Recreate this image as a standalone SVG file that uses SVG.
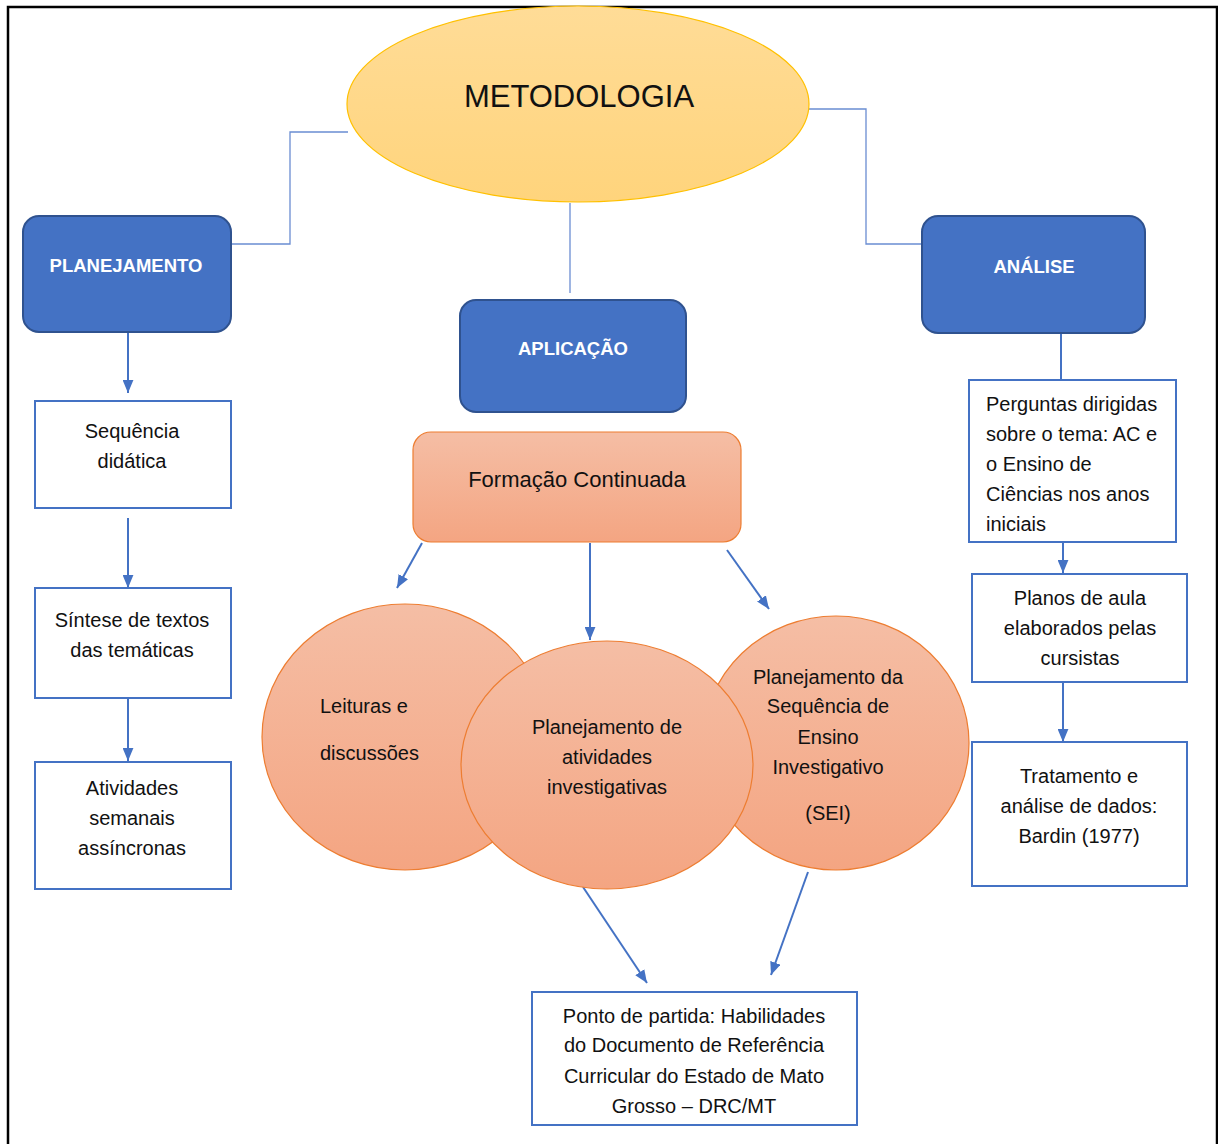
<svg xmlns="http://www.w3.org/2000/svg" width="1218" height="1144" viewBox="0 0 1218 1144">
<defs>
<linearGradient id="gOr" x1="0" y1="0" x2="0" y2="1"><stop offset="0" stop-color="#F5BEA5"/><stop offset="1" stop-color="#F4A582"/></linearGradient>
<linearGradient id="gYe" x1="0" y1="0" x2="0" y2="1"><stop offset="0" stop-color="#FFDC97"/><stop offset="1" stop-color="#FFD47C"/></linearGradient>
<marker id="ah" viewBox="0 0 12 10" refX="12" refY="5" markerWidth="13" markerHeight="11" markerUnits="userSpaceOnUse" orient="auto"><path d="M0,0 L12,5 L0,10 Z" fill="#4472C4"/></marker>
<style>
text{font-family:"Liberation Sans",Arial,sans-serif;fill:#111;font-size:20px}
.c{text-anchor:middle}
.w{fill:#fff;font-weight:bold;font-size:18.5px;text-anchor:middle}
.blue{fill:#4472C4;stroke:#2F528F;stroke-width:2}
.box{fill:#fff;stroke:#4472C4;stroke-width:2}
.or{fill:url(#gOr);stroke:#ED7D31;stroke-width:1.2}
.ln{fill:none;stroke:#6A8DD2;stroke-width:1.3}
.ar{fill:none;stroke:#4472C4;stroke-width:2;marker-end:url(#ah)}
</style>
</defs>
<rect x="8" y="7" width="1209" height="1145" fill="#fff" stroke="#000" stroke-width="2.5"/>
<g id="connectors">
<path class="ln" d="M348,132 H290 V244 H231"/>
<path class="ln" d="M809,109 H866 V244 H922"/>
<path class="ln" d="M570,203 V293"/>
<path class="ln" d="M1061,333 V380" style="stroke:#4472C4;stroke-width:2"/>
<path class="ar" d="M128,332 V393"/>
<path class="ar" d="M128,518 V588"/>
<path class="ar" d="M128,698 V761"/>
<path class="ar" d="M1063,518 V573"/>
<path class="ar" d="M1063,682 V742"/>
<path class="ar" d="M422,543 L397,588"/>
<path class="ar" d="M590,543 V640"/>
<path class="ar" d="M727,550 L769,609"/>
<path class="ar" d="M583,887 L647,983"/>
<path class="ar" d="M808,872 L771,975"/>
</g>
<g id="metodologia">
<ellipse cx="578" cy="104" rx="231" ry="98" fill="url(#gYe)" stroke="#FFC000" stroke-width="1.2"/>
<text x="579" y="107" class="c" style="font-size:31px">METODOLOGIA</text>
</g>
<g id="planejamento">
<rect x="23" y="216" width="208" height="116" rx="16" class="blue"/>
<text x="126" y="272" class="w">PLANEJAMENTO</text>
</g>
<g id="aplicacao">
<rect x="460" y="300" width="226" height="112" rx="16" class="blue"/>
<text x="573" y="355" class="w">APLICAÇÃO</text>
</g>
<g id="analise">
<rect x="922" y="216" width="223" height="117" rx="16" class="blue"/>
<text x="1034" y="273" class="w">ANÁLISE</text>
</g>
<g id="sequencia">
<rect x="35" y="401" width="196" height="107" class="box"/>
<text class="c" x="132" y="438">Sequência</text>
<text class="c" x="132" y="468">didática</text>
</g>
<g id="sintese">
<rect x="35" y="588" width="196" height="110" class="box"/>
<text class="c" x="132" y="627">Síntese de textos</text>
<text class="c" x="132" y="657">das temáticas</text>
</g>
<g id="atividades">
<rect x="35" y="762" width="196" height="127" class="box"/>
<text class="c" x="132" y="795">Atividades</text>
<text class="c" x="132" y="825">semanais</text>
<text class="c" x="132" y="855">assíncronas</text>
</g>
<g id="formacao">
<rect x="413" y="432" width="328" height="110" rx="18" class="or"/>
<text class="c" x="577" y="487" style="font-size:22px">Formação Continuada</text>
</g>
<g id="leituras">
<ellipse cx="405" cy="737" rx="143" ry="133" class="or"/>
<text x="320" y="713">Leituras e</text>
<text x="320" y="760">discussões</text>
</g>
<g id="sei">
<ellipse cx="836" cy="743" rx="133" ry="127" class="or"/>
<text class="c" x="828" y="684">Planejamento da</text>
<text class="c" x="828" y="713">Sequência de</text>
<text class="c" x="828" y="744">Ensino</text>
<text class="c" x="828" y="774">Investigativo</text>
<text class="c" x="828" y="820">(SEI)</text>
</g>
<g id="planejamento-atividades">
<ellipse cx="607" cy="765" rx="146" ry="124" class="or"/>
<text class="c" x="607" y="734">Planejamento de</text>
<text class="c" x="607" y="764">atividades</text>
<text class="c" x="607" y="794">investigativas</text>
</g>
<g id="perguntas">
<rect x="969" y="380" width="207" height="162" class="box"/>
<text x="986" y="411">Perguntas dirigidas</text>
<text x="986" y="441">sobre o tema: AC e</text>
<text x="986" y="471">o Ensino de</text>
<text x="986" y="501">Ciências nos anos</text>
<text x="986" y="531">iniciais</text>
</g>
<g id="planos">
<rect x="972" y="574" width="215" height="108" class="box"/>
<text class="c" x="1080" y="605">Planos de aula</text>
<text class="c" x="1080" y="635">elaborados pelas</text>
<text class="c" x="1080" y="665">cursistas</text>
</g>
<g id="tratamento">
<rect x="972" y="742" width="215" height="144" class="box"/>
<text class="c" x="1079" y="783">Tratamento e</text>
<text class="c" x="1079" y="813">análise de dados:</text>
<text class="c" x="1079" y="843">Bardin (1977)</text>
</g>
<g id="ponto">
<rect x="532" y="992" width="325" height="133" class="box"/>
<text class="c" x="694" y="1023">Ponto de partida: Habilidades</text>
<text class="c" x="694" y="1052">do Documento de Referência</text>
<text class="c" x="694" y="1083">Curricular do Estado de Mato</text>
<text class="c" x="694" y="1113">Grosso – DRC/MT</text>
</g>
</svg>
